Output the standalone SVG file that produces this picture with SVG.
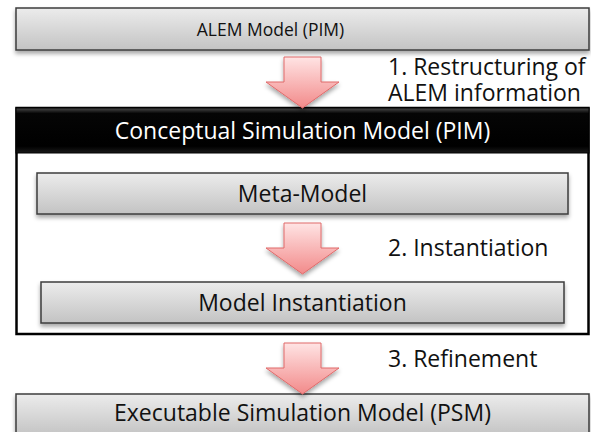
<svg xmlns="http://www.w3.org/2000/svg" width="591" height="432" viewBox="0 0 591 432">
  <defs>
    <linearGradient id="boxGrad" x1="0" y1="0" x2="0" y2="1">
      <stop offset="0" stop-color="#ececec"/>
      <stop offset="1" stop-color="#c3c3c3"/>
    </linearGradient>
    <linearGradient id="hdrGrad" x1="0" y1="0" x2="0" y2="1">
      <stop offset="0" stop-color="#4a4a4a"/>
      <stop offset="0.12" stop-color="#050505"/>
      <stop offset="0.85" stop-color="#000"/>
      <stop offset="1" stop-color="#1a1a1a"/>
    </linearGradient>
    <linearGradient id="arrGrad" x1="0" y1="0" x2="0" y2="1">
      <stop offset="0" stop-color="#ffe4e4"/>
      <stop offset="1" stop-color="#f28a8a"/>
    </linearGradient>
    <filter id="shadow" x="-5%" y="-20%" width="110%" height="150%">
      <feDropShadow dx="0" dy="3" stdDeviation="2" flood-color="#000" flood-opacity="0.35"/>
    </filter>
    <path id="arrow" d="M284,0 H321 V25 H339 L302.5,51 L266,25 H284 Z"/>
  </defs>
  <style>
    .box { fill: url(#boxGrad); stroke: #3c3c3c; stroke-width: 1.5; filter: url(#shadow); }
    .txt { font-family: "Open Sans", "Liberation Sans", sans-serif; font-size: 23px; fill: #111; text-anchor: middle; }
    .lbl { font-family: "Open Sans", "Liberation Sans", sans-serif; font-size: 23px; fill: #111; }
    .arr { fill: url(#arrGrad); stroke: #e06a6a; stroke-width: 1; filter: url(#shadow); }
  </style>

  <g id="alem-model">
    <rect class="box" x="16" y="8" width="573" height="42"/>
    <text class="txt" x="270.5" y="35.5" style="font-size:17.5px">ALEM Model (PIM)</text>
  </g>

  <g id="conceptual-model">
    <rect x="16.5" y="108" width="572" height="226" fill="#fff" stroke="#000" stroke-width="2.5"/>
    <rect x="16" y="108" width="573" height="45" fill="url(#hdrGrad)" stroke="#000" stroke-width="1"/>
    <text class="txt" x="302.5" y="138.5" style="fill:#fff">Conceptual Simulation Model (PIM)</text>
  </g>

  <g id="meta-model">
    <rect class="box" x="37" y="173" width="531" height="41"/>
    <text class="txt" x="302.5" y="201.5">Meta-Model</text>
  </g>

  <g id="model-instantiation">
    <rect class="box" x="41" y="282" width="523" height="41"/>
    <text class="txt" x="302.5" y="310.5">Model Instantiation</text>
  </g>

  <g id="executable-model">
    <rect class="box" x="16" y="394" width="573" height="42"/>
    <text class="txt" x="302.5" y="421">Executable Simulation Model (PSM)</text>
  </g>

  <g id="connectors">
    <use href="#arrow" class="arr" transform="translate(0,57)"/>
    <use href="#arrow" class="arr" transform="translate(0,223)"/>
    <use href="#arrow" class="arr" transform="translate(0,343)"/>
    <text class="lbl"><tspan x="388" y="74.5">1. Restructuring of</tspan><tspan x="388" y="101">ALEM information</tspan></text>
    <text class="lbl" x="388" y="256">2. Instantiation</text>
    <text class="lbl" x="388" y="367">3. Refinement</text>
  </g>
</svg>
